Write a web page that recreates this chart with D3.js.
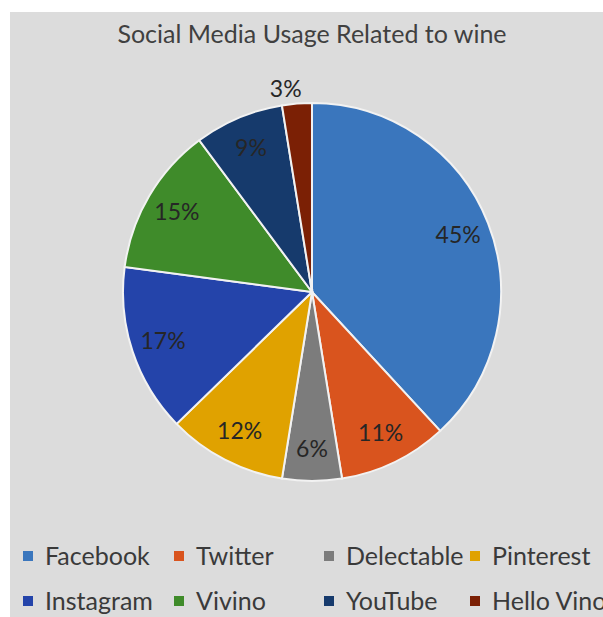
<!DOCTYPE html>
<html>
<head>
<meta charset="utf-8">
<script src="https://cdn.jsdelivr.net/npm/d3@7"></script>
<style>
  html, body { margin: 0; padding: 0; background: #fff; }
  svg { display: block; }
</style>
</head>
<body>
<svg id="chart"></svg>
<script>
// data
const categories = ['Facebook', 'Twitter', 'Delectable', 'Pinterest', 'Instagram', 'Vivino', 'YouTube', 'Hello Vino'];
const values = [45, 11, 6, 12, 17, 15, 9, 3];
const colors = ['#3a76bd', '#d9541e', '#7c7c7c', '#e0a200', '#2444aa', '#3f8b2a', '#163a6c', '#7b2005'];
const title = 'Social Media Usage Related to wine';

const width = 603, height = 617;
const cx = 312, cy = 292, radius = 189;
const font = 'Lato, "Open Sans", sans-serif';

const svg = d3.select('#chart')
    .attr('width', width)
    .attr('height', height);

// grey chart area
svg.append('rect')
    .attr('x', 10).attr('y', 12)
    .attr('width', width - 10).attr('height', height - 12)
    .attr('fill', '#dcdcdc');

svg.append('text')
    .attr('x', cx).attr('y', 43)
    .attr('text-anchor', 'middle')
    .attr('font-family', font)
    .attr('font-size', 25)
    .attr('fill', '#404040')
    .text(title);

const pieData = d3.pie()
    .sort(null)
    .value(d => d.value)(categories.map((c, i) => ({ name: c, value: values[i], color: colors[i] })));

const arc = d3.arc().innerRadius(0).outerRadius(radius);
const labelArc = d3.arc().innerRadius(radius * 0.83).outerRadius(radius * 0.83);
const outerArc = d3.arc().innerRadius(radius * 1.08).outerRadius(radius * 1.08);

const g = svg.append('g')
    .attr('transform', `translate(${cx}, ${cy})`);

g.selectAll('path')
    .data(pieData)
    .enter()
    .append('path')
    .attr('d', arc)
    .attr('fill', d => d.data.color)
    .attr('stroke', '#f2f2f2')
    .style('stroke-width', '2px');

g.selectAll('text')
    .data(pieData)
    .enter()
    .append('text')
    .attr('transform', d => {
        // very thin slices get their label outside the pie
        const small = (d.endAngle - d.startAngle) < 0.2;
        const p = (small ? outerArc : labelArc).centroid(d);
        if (small) p[0] -= 10;
        return `translate(${p})`;
    })
    .attr('dy', '0.35em')
    .attr('text-anchor', 'middle')
    .attr('font-family', font)
    .attr('font-size', 23)
    .attr('fill', '#262626')
    .text(d => d.data.value + '%');

// legend, 4 per row
const colX = d3.scaleOrdinal().domain([0, 1, 2, 3]).range([23, 174, 324, 470]);
const rowY = d3.scaleOrdinal().domain([0, 1]).range([556, 601]);

const legend = svg.append('g')
    .selectAll('g')
    .data(categories)
    .enter()
    .append('g')
    .attr('transform', (d, i) => `translate(${colX(i % 4)}, ${rowY(Math.floor(i / 4))})`);

legend.append('rect')
    .attr('x', 0).attr('y', -5)
    .attr('width', 10).attr('height', 10)
    .attr('fill', (d, i) => colors[i]);

legend.append('text')
    .attr('x', 22).attr('y', 0)
    .attr('dy', '0.35em')
    .attr('font-family', font)
    .attr('font-size', 25)
    .attr('fill', '#3a3a3a')
    .text(d => d);
</script>
</body>
</html>
